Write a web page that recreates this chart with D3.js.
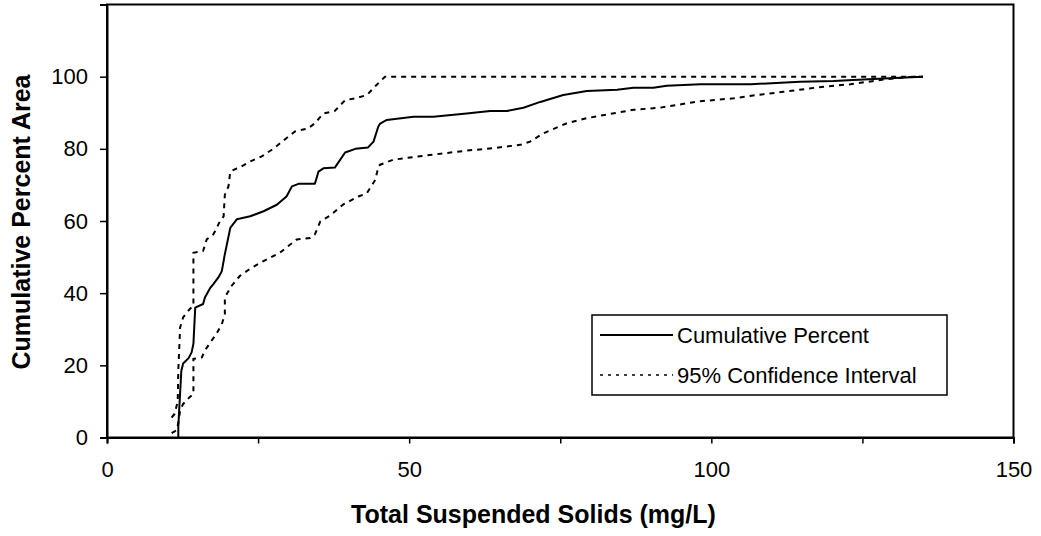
<!DOCTYPE html>
<html><head><meta charset="utf-8">
<script src="https://cdn.jsdelivr.net/npm/d3@7"></script>
<style>body{margin:0;background:#fff}svg{display:block}text{font-family:"Liberation Sans",Arial,sans-serif;fill:#000}</style>
</head><body><svg id="c" width="1041" height="536"></svg>
<script>
const cumX = [11.8, 11.8, 12.0, 12.3, 12.6, 13.5, 14.0, 14.3, 14.6, 15.9, 16.2, 17.1, 17.6, 18.4, 19.0, 19.5, 20.4, 21.5, 23.7, 25.9, 28.1, 29.7, 30.6, 31.7, 34.4, 35.0, 35.8, 37.7, 38.6, 39.4, 41.1, 43.2, 44.1, 44.9, 45.2, 46.3, 50.7, 54, 59.5, 63.4, 66.2, 68.9, 71.7, 75.5, 79.4, 84.4, 87.1, 90.4, 92.6, 98.2, 106.5, 114.7, 120.2, 128.5, 135];
const cumY = [0, 3, 9.4, 18.5, 20.5, 22, 23.6, 26, 36, 37, 38.8, 41.5, 42.5, 44.3, 46.1, 50.8, 58.1, 60.5, 61.3, 62.7, 64.5, 66.8, 69.6, 70.3, 70.3, 73.7, 74.6, 74.8, 77, 79, 80, 80.4, 82, 86.2, 87, 88, 88.9, 88.9, 89.8, 90.5, 90.5, 91.4, 93, 94.9, 96, 96.4, 96.9, 96.9, 97.5, 97.9, 97.9, 98.6, 98.8, 99.5, 100];
const upperX = [10.7, 11.2, 11.7, 11.8, 12.1, 12.6, 13.7, 14.3, 14.3, 15.9, 16.5, 17.6, 17.9, 18.7, 19.3, 19.5, 20.1, 20.4, 21.5, 22, 23.7, 25.6, 27.5, 29.2, 31.1, 33.3, 34.4, 35.8, 37.7, 39.4, 41.1, 43, 44.6, 46, 135];
const upperY = [5.5, 6.6, 10, 18.6, 30.5, 33.3, 35.6, 36.5, 51.2, 51.7, 54.9, 56.3, 57.2, 60, 61.3, 67.3, 69.6, 73.7, 74.6, 74.9, 76.5, 77.9, 80, 82.3, 84.8, 85.7, 87.1, 89.8, 90.5, 93.5, 94, 94.9, 97.7, 100, 100];
const lowerX = [10.7, 11.5, 11.8, 12.1, 12.6, 13.7, 14.3, 14.3, 15.7, 16.2, 17.3, 18.1, 19.0, 19.5, 19.5, 20.6, 22, 23.7, 25.9, 28.6, 31.4, 33.6, 34.4, 35.3, 36.9, 39.1, 41.6, 43, 44.4, 44.9, 45.2, 47.4, 54, 59.5, 63.9, 68.4, 70, 72.2, 76.1, 79.4, 82.7, 87.1, 91.5, 95.9, 98.2, 103.7, 107.5, 111.9, 117.5, 123, 128.5, 132.4, 135];
const lowerY = [1.2, 2, 4, 7.5, 9.3, 11.2, 12.1, 21.8, 22.2, 24.1, 26.8, 28.7, 31.4, 34.2, 38.8, 42, 44.8, 46.8, 48.9, 51.2, 54.9, 55.3, 56.3, 59.9, 61.5, 64.6, 66.8, 67.7, 71.4, 75.1, 75.6, 77, 78.4, 79.5, 80.2, 81.1, 82, 84.3, 87.1, 88.5, 89.5, 90.8, 91.4, 92.6, 93.2, 94, 94.9, 95.8, 97, 97.9, 99.2, 99.9, 100];
const xTicks = [0, 25, 50, 75, 100, 125, 150];
const xLabels = [0, 50, 100, 150];
const yTicks = [0, 20, 40, 60, 80, 100];
const legendLabels = ["Cumulative Percent", "95% Confidence Interval"];
const xTitle = "Total Suspended Solids (mg/L)";
const yTitle = "Cumulative Percent Area";

const svg = d3.select("#c");
const L = 107, R = 1013.5, T = 4.5, B = 437.5;
const x = d3.scaleLinear().domain([0, 150]).range([L, R]);
const y = d3.scaleLinear().domain([0, 120]).range([B, T]);

svg.append("rect").attr("x", L).attr("y", T).attr("width", R - L).attr("height", B - T)
  .attr("fill", "none").attr("stroke", "#000").attr("stroke-width", 2);

const xAxis = d3.axisBottom(x).tickValues(xTicks).tickSize(6).tickPadding(18)
  .tickFormat(d => xLabels.includes(d) ? d : "");
const gx = svg.append("g").attr("transform", `translate(0,${B})`).call(xAxis);
const yAxis = d3.axisLeft(y).tickValues(yTicks).tickSize(7).tickPadding(12);
const gy = svg.append("g").attr("transform", `translate(${L},0)`).call(yAxis);
[gx, gy].forEach(g => {
  g.select(".domain").attr("stroke", "#000").attr("stroke-width", 2);
  g.selectAll(".tick line").attr("stroke", "#000").attr("stroke-width", 1.5);
  g.selectAll("text").attr("font-size", 22).attr("font-family", "Liberation Sans, Arial, sans-serif");
});

const line = d3.line().x(d => x(d[0])).y(d => y(d[1]));
const zip = (a, b) => a.map((v, i) => [v, b[i]]);
svg.append("path").datum(zip(upperX, upperY)).attr("d", line).attr("fill", "none")
  .attr("stroke", "#000").attr("stroke-width", 2).attr("stroke-dasharray", "5,5");
svg.append("path").datum(zip(lowerX, lowerY)).attr("d", line).attr("fill", "none")
  .attr("stroke", "#000").attr("stroke-width", 2).attr("stroke-dasharray", "5,5");
svg.append("path").datum(zip(cumX, cumY)).attr("d", line).attr("fill", "none")
  .attr("stroke", "#000").attr("stroke-width", 2).attr("stroke-linejoin", "round");

svg.append("text").attr("x", 533.5).attr("y", 514).attr("dy", "0.35em").attr("text-anchor", "middle")
  .attr("font-size", 25).attr("font-weight", "bold").text(xTitle);
svg.append("text").attr("transform", "translate(21,222) rotate(-90)").attr("dy", "0.35em").attr("text-anchor", "middle")
  .attr("font-size", 25).attr("font-weight", "bold").text(yTitle);

const lg = svg.append("g");
lg.append("rect").attr("x", 592).attr("y", 315).attr("width", 355).attr("height", 80)
  .attr("fill", "#fff").attr("stroke", "#000").attr("stroke-width", 1.5);
const rows = [335, 375];
rows.forEach((ry, i) => {
  lg.append("line").attr("x1", 600).attr("x2", 673).attr("y1", ry).attr("y2", ry)
    .attr("stroke", "#000").attr("stroke-width", i === 0 ? 2 : 1.5)
    .attr("stroke-dasharray", i === 0 ? null : "3,5");
  lg.append("text").attr("x", 677).attr("y", ry).attr("dy", "0.35em")
    .attr("font-size", 22).text(legendLabels[i]);
});
</script></body></html>
